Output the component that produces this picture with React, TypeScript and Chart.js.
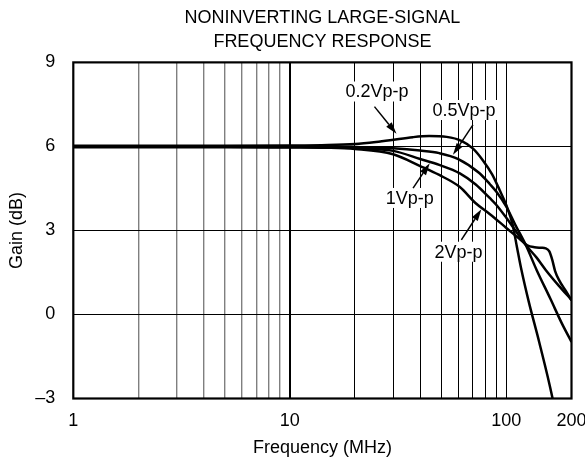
import React, { useEffect, useRef } from "react";
import { Chart, registerables } from "chart.js";

Chart.register(...registerables);

const FONT = '"Liberation Sans", Arial, Helvetica, sans-serif';

// ---- data (frequency in MHz, gain in dB) ----
const freq02 = [1, 5, 10, 15, 20, 25, 29, 37, 44, 53, 62, 70, 78, 86, 93, 100, 107, 112, 117, 127, 142, 163, 168];
const gain02 = [6.02, 6.02, 6.03, 6.05, 6.09, 6.16, 6.22, 6.33, 6.37, 6.34, 6.2, 5.93, 5.5, 5.0, 4.45, 3.9, 3.2, 2.4, 1.65, 0.45, -1.0, -2.95, -3.5];

const freq05 = [1, 5, 10, 15, 20, 30, 40, 49, 60, 75, 84, 90, 100, 110, 123, 138, 160, 180, 200];
const gain05 = [6.0, 6.0, 6.0, 6.0, 5.98, 5.93, 5.85, 5.76, 5.55, 5.05, 4.65, 4.38, 3.85, 3.2, 2.48, 1.59, 0.55, -0.3, -0.98];

const freq1 = [1, 5, 10, 15, 20, 30, 40, 49, 61, 72, 84, 90, 100, 110, 123, 138, 152, 175, 200];
const gain1 = [5.985, 5.985, 5.98, 5.97, 5.94, 5.84, 5.55, 5.34, 5.04, 4.65, 4.15, 3.91, 3.45, 3.0, 2.48, 2.03, 1.59, 1.02, 0.52];

const freq2 = [1, 5, 10, 15, 20, 30, 40, 49, 61, 72, 84, 100, 115, 125, 135, 145, 152, 158, 163, 168, 176, 188, 200];
const gain2 = [5.97, 5.97, 5.96, 5.95, 5.91, 5.72, 5.3, 4.98, 4.55, 3.98, 3.58, 3.09, 2.7, 2.47, 2.4, 2.38, 2.36, 2.25, 1.95, 1.55, 1.2, 0.85, 0.5];

const seriesNames = ["0.2Vp-p", "0.5Vp-p", "1Vp-p", "2Vp-p"];
const seriesFreqs = [freq02, freq05, freq1, freq2];
const seriesGains = [gain02, gain05, gain1, gain2];

// ---- axes ----
const xGridValues = [1, 2, 3, 4, 5, 6, 7, 8, 9, 10, 20, 30, 40, 50, 60, 70, 80, 90, 100, 200];
const xLabelValues = [1, 10, 100, 200];
const yTickValues = [-3, 0, 3, 6, 9];

const titleLines = ["NONINVERTING LARGE-SIGNAL", "FREQUENCY RESPONSE"];
const xTitle = "Frequency (MHz)";
const yTitle = "Gain (dB)";

// ---- callout annotations (in data coordinates: [MHz, dB]) ----
const calloutText = seriesNames;
const calloutAt = [[25.3, 7.96], [63.7, 7.3], [35.8, 4.16], [60.2, 2.24]];
const arrowFrom = [[24.6, 7.42], [70.1, 6.77], [37.1, 4.51], [62, 2.66]];
const arrowTo = [[31.1, 6.45], [56.7, 5.7], [44.3, 5.4], [76.7, 3.76]];

const overlayPlugin = {
  id: "overlay",
  afterDatasetsDraw(chart: any) {
    const { ctx, chartArea, scales } = chart;
    const xs = scales.x;
    const ys = scales.y;
    ctx.save();
    ctx.font = `18px ${FONT}`;
    ctx.textAlign = "center";
    ctx.textBaseline = "middle";
    calloutText.forEach((t, i) => {
      const lx = xs.getPixelForValue(calloutAt[i][0]);
      const ly = ys.getPixelForValue(calloutAt[i][1]);
      const w = ctx.measureText(t).width;
      ctx.fillStyle = "#fff";
      ctx.fillRect(lx - w / 2 - 2, ly - 10, w + 4, 20);
      ctx.fillStyle = "#000";
      ctx.fillText(t, lx, ly + 1);
      const x1 = xs.getPixelForValue(arrowFrom[i][0]);
      const y1 = ys.getPixelForValue(arrowFrom[i][1]);
      const x2 = xs.getPixelForValue(arrowTo[i][0]);
      const y2 = ys.getPixelForValue(arrowTo[i][1]);
      const ang = Math.atan2(y2 - y1, x2 - x1);
      const hl = 12;
      const hw = 3.5;
      const bx = x2 - hl * Math.cos(ang);
      const by = y2 - hl * Math.sin(ang);
      ctx.strokeStyle = "#000";
      ctx.lineWidth = 1.5;
      ctx.beginPath();
      ctx.moveTo(x1, y1);
      ctx.lineTo(bx, by);
      ctx.stroke();
      ctx.beginPath();
      ctx.moveTo(x2, y2);
      ctx.lineTo(bx - hw * Math.sin(ang), by + hw * Math.cos(ang));
      ctx.lineTo(bx + hw * Math.sin(ang), by - hw * Math.cos(ang));
      ctx.closePath();
      ctx.fill();
    });
    ctx.strokeStyle = "#000";
    ctx.lineWidth = 2.2;
    ctx.strokeRect(
      chartArea.left,
      chartArea.top,
      chartArea.right - chartArea.left,
      chartArea.bottom - chartArea.top
    );
    ctx.restore();
  },
};

export default function App() {
  const canvasRef = useRef<HTMLCanvasElement | null>(null);

  useEffect(() => {
    const canvas = canvasRef.current;
    if (!canvas) return;
    const datasets = seriesNames.map((name, i) => ({
      label: name,
      data: seriesFreqs[i].map((f, j) => ({ x: f, y: seriesGains[i][j] })),
      borderColor: "#000",
      backgroundColor: "#000",
      borderWidth: 2.5,
      pointRadius: 0,
      fill: false,
      cubicInterpolationMode: "monotone" as const,
    }));

    const chart = new Chart(canvas, {
      type: "line",
      data: { datasets },
      plugins: [overlayPlugin],
      options: {
        responsive: false,
        animation: false,
        devicePixelRatio: 1,
        layout: { padding: { left: 0, right: 13.5, top: 0, bottom: 0 } },
        plugins: {
          legend: { display: false },
          tooltip: { enabled: false },
          title: {
            display: true,
            fullSize: false,
            text: titleLines,
            color: "#000",
            font: { size: 18, family: FONT, weight: "normal", lineHeight: 1.33 },
            padding: { top: 6, bottom: 8.5 },
          },
        },
        scales: {
          x: {
            type: "logarithmic",
            min: 1,
            max: 200,
            afterBuildTicks: (s: any) => {
              s.ticks = xGridValues.map((v) => ({ value: v }));
            },
            afterFit: (s: any) => {
              s.height = 67.5;
              s.paddingLeft = 0;
              s.paddingRight = 0;
            },
            ticks: {
              autoSkip: false,
              maxRotation: 0,
              minRotation: 0,
              padding: 12,
              color: "#000",
              font: { size: 18, family: FONT },
              callback: (v: any) => (xLabelValues.includes(Number(v)) ? String(v) : ""),
            },
            grid: {
              drawTicks: false,
              color: (c: any) => {
                const v = c.tick ? c.tick.value : 0;
                if (v === 1 || v === 200) return "rgba(0,0,0,0)";
                if (v < 10) return "#7f7f7f";
                return "#000";
              },
              lineWidth: (c: any) => {
                const v = c.tick ? c.tick.value : 0;
                if (v === 10) return 2;
                if (v < 10) return 1.4;
                return 1;
              },
            },
            border: { display: false },
            title: {
              display: true,
              text: xTitle,
              color: "#000",
              font: { size: 18, family: FONT },
              padding: { top: 0, bottom: 7 },
            },
          },
          y: {
            min: -3,
            max: 9,
            afterBuildTicks: (s: any) => {
              s.ticks = yTickValues.map((v) => ({ value: v }));
            },
            afterFit: (s: any) => {
              s.width = 73.3;
              s.paddingTop = 0;
              s.paddingBottom = 0;
            },
            ticks: {
              padding: 18,
              color: "#000",
              font: { size: 18, family: FONT },
              callback: (v: any) => (Number(v) < 0 ? "\u2013" + Math.abs(Number(v)) : String(v)),
            },
            grid: {
              drawTicks: false,
              color: (c: any) => {
                const v = c.tick ? c.tick.value : 0;
                if (v === -3 || v === 9) return "rgba(0,0,0,0)";
                return "#000";
              },
              lineWidth: 1,
            },
            border: { display: false },
            title: {
              display: true,
              text: yTitle,
              color: "#000",
              font: { size: 18, family: FONT },
              padding: { top: 6, bottom: 0 },
            },
          },
        },
      } as any,
    });
    return () => chart.destroy();
  }, []);

  return (
    <div style={{ position: "fixed", left: 0, top: 0, width: 585, height: 466, background: "#fff" }}>
      <canvas ref={canvasRef} width={585} height={466} style={{ display: "block" }} />
    </div>
  );
}
